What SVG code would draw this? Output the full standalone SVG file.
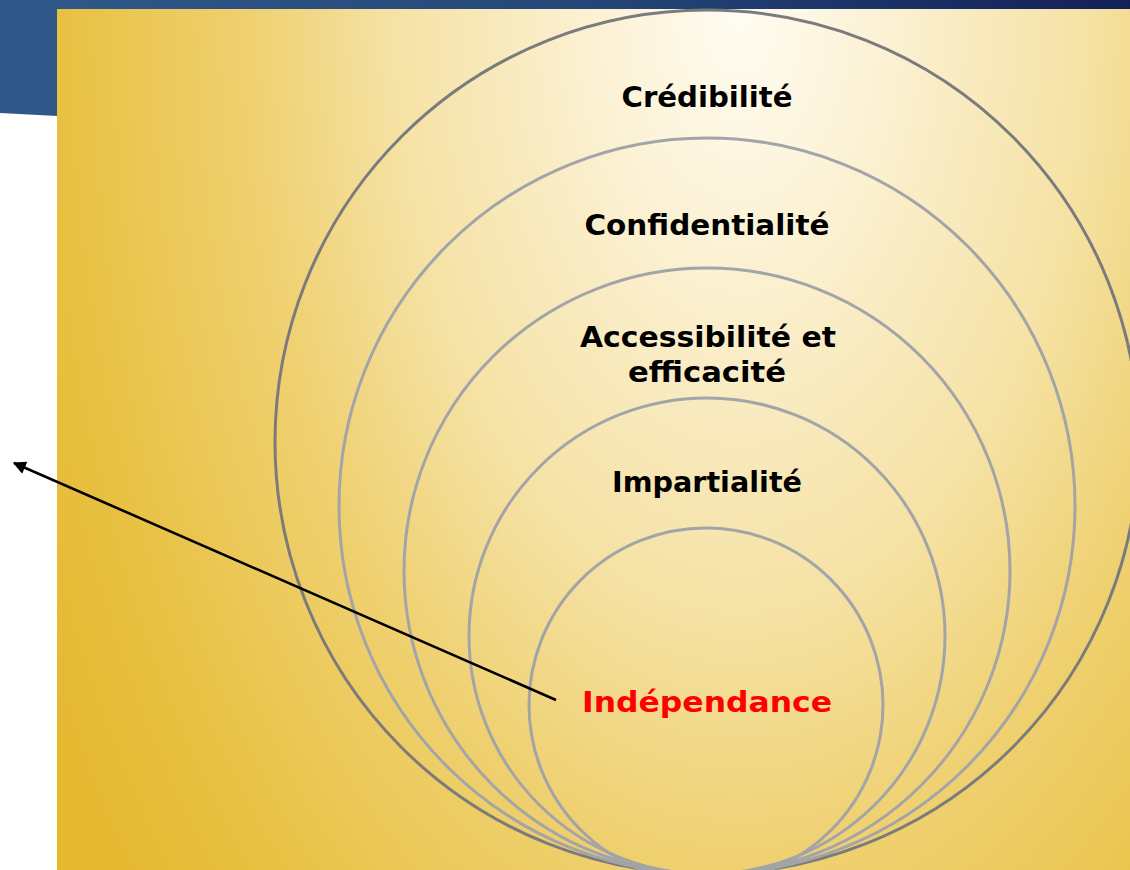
<svg xmlns="http://www.w3.org/2000/svg" width="1130" height="870" viewBox="0 0 1130 870">
  <defs>
    <linearGradient id="blue" x1="0" y1="0" x2="1130" y2="0" gradientUnits="userSpaceOnUse">
      <stop offset="0" stop-color="#30598a"/>
      <stop offset="0.5" stop-color="#254878"/>
      <stop offset="1" stop-color="#142058"/>
    </linearGradient>
    <radialGradient id="gold" cx="0" cy="0" r="1" gradientUnits="userSpaceOnUse" gradientTransform="translate(740 5) scale(800 1400)">
      <stop offset="0" stop-color="#fffcf2"/>
      <stop offset="0.2" stop-color="#fbf0d0"/>
      <stop offset="0.43" stop-color="#f5e2a5"/>
      <stop offset="0.62" stop-color="#efd06f"/>
      <stop offset="0.85" stop-color="#e8c142"/>
      <stop offset="1" stop-color="#e5b830"/>
    </radialGradient>
    <marker id="arrow" viewBox="0 0 10 10" refX="9" refY="5" markerWidth="5.5" markerHeight="5" orient="auto" markerUnits="strokeWidth">
      <path d="M0,0 L10,5 L0,10 z" fill="#000"/>
    </marker>
    <style>
      .ring { fill: none; stroke: #a3a4a8; stroke-width: 3; }
      .outer { fill: none; stroke: #7b7b7d; stroke-width: 3; }
      .lbl { font-family: "DejaVu Sans", "Liberation Sans", sans-serif; font-weight: bold; font-size: 29px; fill: #000; text-anchor: middle; }
      .red { fill: #ff0000; }
    </style>
  </defs>

  <rect x="0" y="0" width="1130" height="870" fill="#ffffff"/>
  <polygon points="0,0 1130,0 1130,9 57,9 57,116 0,113" fill="url(#blue)"/>
  <rect x="57" y="9" width="1073" height="861" fill="url(#gold)"/>

  <g id="node-credibilite">
    <circle class="outer" cx="707" cy="442" r="432"/>
    <text class="lbl" x="707" y="107" textLength="171" lengthAdjust="spacingAndGlyphs">Crédibilité</text>
  </g>
  <g id="node-confidentialite">
    <circle class="ring" cx="707" cy="506" r="368"/>
    <text class="lbl" x="707" y="235" textLength="245" lengthAdjust="spacingAndGlyphs">Confidentialité</text>
  </g>
  <g id="node-accessibilite">
    <circle class="ring" cx="707" cy="571" r="303"/>
    <text class="lbl" x="708" y="347" textLength="256" lengthAdjust="spacingAndGlyphs">Accessibilité et</text>
    <text class="lbl" x="707" y="382" textLength="158" lengthAdjust="spacingAndGlyphs">efficacité</text>
  </g>
  <g id="node-impartialite">
    <circle class="ring" cx="707" cy="636" r="238"/>
    <text class="lbl" x="707" y="492" textLength="190" lengthAdjust="spacingAndGlyphs">Impartialité</text>
  </g>
  <g id="node-independance">
    <circle class="ring" cx="706" cy="705" r="177"/>
    <text class="lbl red" x="707" y="712" textLength="250" lengthAdjust="spacingAndGlyphs">Indépendance</text>
  </g>

  <g id="connectors">
    <line x1="556" y1="700" x2="14" y2="463" stroke="#000" stroke-width="2.6" marker-end="url(#arrow)"/>
  </g>
</svg>
